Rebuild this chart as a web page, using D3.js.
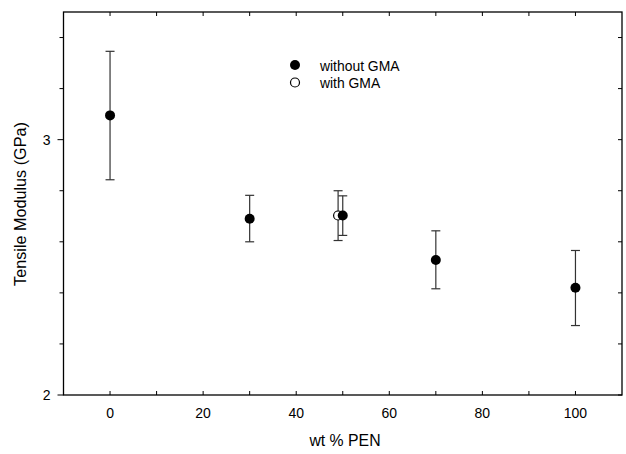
<!DOCTYPE html>
<html><head><meta charset="utf-8">
<script src="https://cdn.jsdelivr.net/npm/d3@7"></script>
<style>body{margin:0;background:#fff;}svg{display:block;font-family:"Liberation Sans",Arial,sans-serif;}</style>
</head><body>
<svg id="c" width="626" height="454"></svg>
<script>
const withoutX = [0, 30, 50, 70, 100];
const withoutY = [3.095, 2.69, 2.703, 2.529, 2.42];
const withoutLo = [2.843, 2.6, 2.625, 2.416, 2.272];
const withoutHi = [3.346, 2.782, 2.78, 2.643, 2.566];
const withX = [49];
const withY = [2.703];
const withLo = [2.605];
const withHi = [2.8];
const xMajor = [0, 20, 40, 60, 80, 100];
const xMinor = [-10, 10, 30, 50, 70, 90, 110];
const yMajor = [2, 3];
const yMinor = [2.2, 2.4, 2.6, 2.8, 3.2, 3.4];
const legendLabels = ["without GMA", "with GMA"];

const svg = d3.select("#c");
const L = 63.5, R = 622, T = 12, B = 395;
const x = d3.scaleLinear().domain([-10, 110]).range([L, R]);
const y = d3.scaleLinear().domain([2, 3.5]).range([B, T]);
const g = svg.append("g");

// frame
g.append("rect").attr("x", L).attr("y", T).attr("width", R - L).attr("height", B - T)
  .attr("fill", "none").attr("stroke", "#000").attr("stroke-width", 1.3);

// x ticks (inward) bottom and top
const xt = xMajor.concat(xMinor).filter(v => v > -10 && v < 110);
xt.forEach(v => {
  const len = 4;
  g.append("line").attr("x1", x(v)).attr("x2", x(v)).attr("y1", B).attr("y2", B - len).attr("stroke", "#000");
  g.append("line").attr("x1", x(v)).attr("x2", x(v)).attr("y1", T).attr("y2", T + len).attr("stroke", "#000");
});
xMajor.forEach(v => {
  g.append("text").attr("x", x(v)).attr("y", B + 23).attr("text-anchor", "middle")
    .attr("font-size", 14).attr("fill", "#000").text(v);
});

// y ticks: left outward, right inward
yMajor.concat(yMinor).forEach(v => {
  const len = yMajor.includes(v) ? 6 : 4;
  g.append("line").attr("x1", L).attr("x2", L - len).attr("y1", y(v)).attr("y2", y(v)).attr("stroke", "#000");
  g.append("line").attr("x1", R).attr("x2", R - 4).attr("y1", y(v)).attr("y2", y(v)).attr("stroke", "#000");
});
yMajor.forEach(v => {
  g.append("text").attr("x", L - 13).attr("y", y(v) + 5).attr("text-anchor", "end")
    .attr("font-size", 14).attr("fill", "#000").text(v);
});

// axis titles
svg.append("text").attr("x", 345).attr("y", 446).attr("text-anchor", "middle")
  .attr("font-size", 15.8).text("wt % PEN");
svg.append("text").attr("transform", `translate(26,204) rotate(-90)`)
  .attr("text-anchor", "middle").attr("font-size", 16.2).text("Tensile Modulus (GPa)");

function errBars(xs, lo, hi) {
  xs.forEach((v, i) => {
    const cx = x(v);
    g.append("line").attr("x1", cx).attr("x2", cx).attr("y1", y(lo[i])).attr("y2", y(hi[i])).attr("stroke", "#333").attr("stroke-width", 1.2);
    [lo[i], hi[i]].forEach(e => {
      g.append("line").attr("x1", cx - 4.5).attr("x2", cx + 4.5).attr("y1", y(e)).attr("y2", y(e)).attr("stroke", "#333").attr("stroke-width", 1.2);
    });
  });
}
errBars(withX, withLo, withHi);
withX.forEach((v, i) => {
  g.append("circle").attr("cx", x(v)).attr("cy", y(withY[i])).attr("r", 4.5)
    .attr("fill", "#fff").attr("stroke", "#000").attr("stroke-width", 1.2);
});
errBars(withoutX, withoutLo, withoutHi);
withoutX.forEach((v, i) => {
  g.append("circle").attr("cx", x(v)).attr("cy", y(withoutY[i])).attr("r", 5).attr("fill", "#000");
});

// legend
const lg = svg.append("g");
lg.append("circle").attr("cx", 295).attr("cy", 65).attr("r", 5).attr("fill", "#000");
lg.append("circle").attr("cx", 295).attr("cy", 82.5).attr("r", 4.5).attr("fill", "#fff").attr("stroke", "#000").attr("stroke-width", 1.2);
legendLabels.forEach((t, i) => {
  lg.append("text").attr("x", 320).attr("y", 70.5 + i * 17.5).attr("font-size", 13.9).text(t);
});
</script>
</body></html>
